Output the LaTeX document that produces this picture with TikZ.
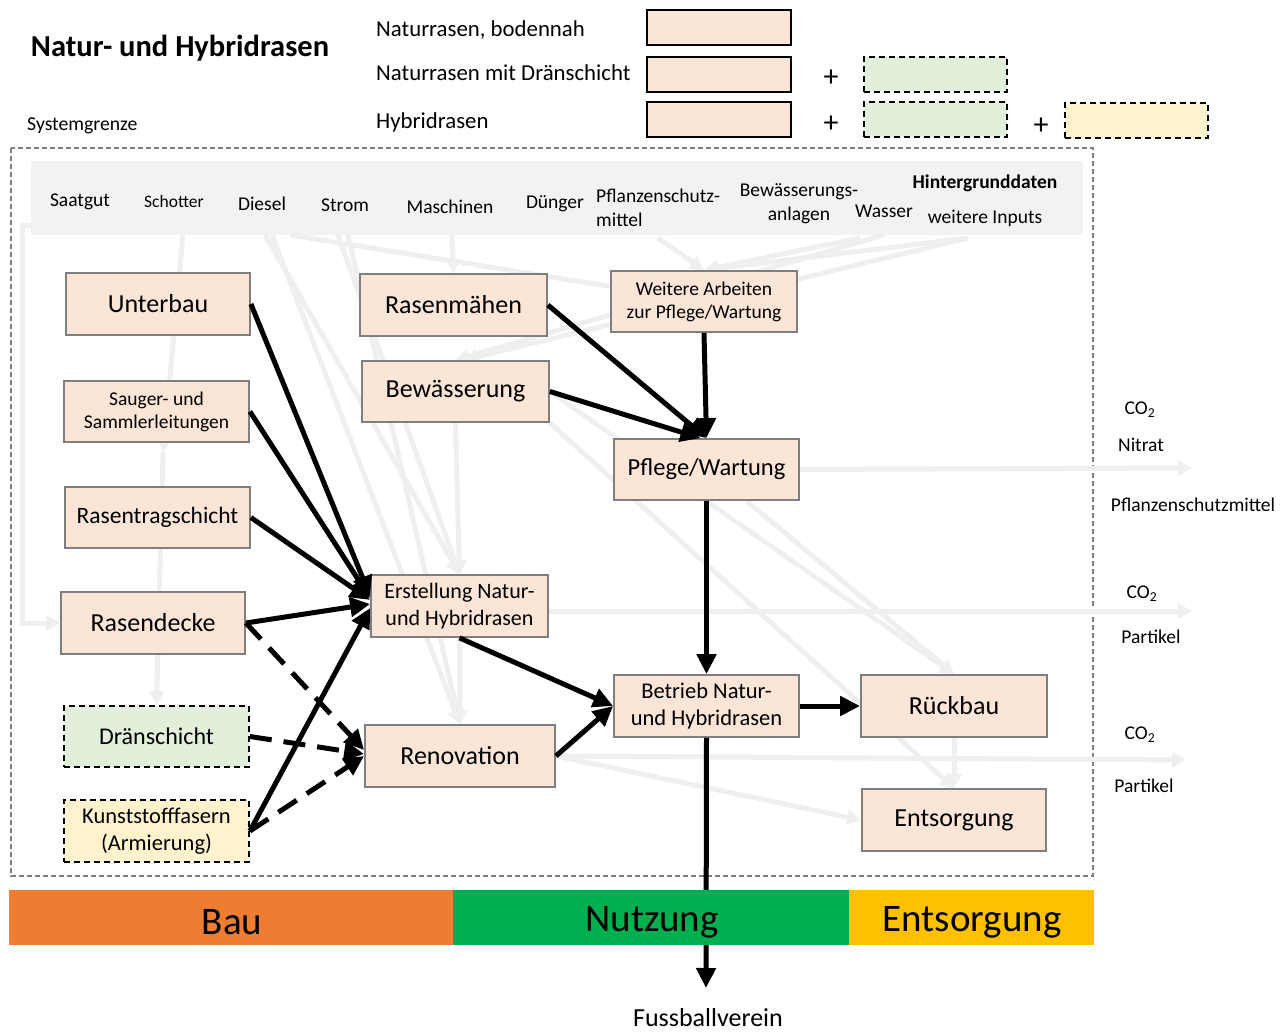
\documentclass[tikz,border=0pt]{standalone}
\usepackage{fontspec}
\setmainfont{Carlito}
\usetikzlibrary{arrows.meta}
\definecolor{pinkfill}{HTML}{FBE5D6}
\definecolor{greenfill}{HTML}{E2EFDA}
\definecolor{yellowfill}{HTML}{FFF2CC}
\definecolor{boxgray}{HTML}{7F7F7F}
\definecolor{lgray}{HTML}{EFEFEF}
\definecolor{barfill}{HTML}{F2F2F2}
\definecolor{bauorange}{HTML}{ED7D31}
\definecolor{nutzgreen}{HTML}{00B050}
\definecolor{entsgold}{HTML}{FFC000}
\begin{document}
\begin{tikzpicture}[x=1pt,y=-1pt,
 box/.style={draw=boxgray,line width=1.8,fill=pinkfill,inner sep=0,align=center},
 dbox/.style={draw=black,line width=1.8,dash pattern=on 6pt off 4pt,inner sep=0,align=center},
 legbox/.style={draw=black,line width=1.8,fill=pinkfill,minimum width=144,minimum height=35,inner sep=0},
 legdash/.style={draw=black,line width=1.8,dash pattern=on 6pt off 4pt,minimum width=143,minimum height=35,inner sep=0},
 lbl/.style={inner sep=0,align=center},
 gline/.style={draw=lgray,line width=5},
 garrow/.style={gline,-{Triangle[length=14pt,width=15pt]}},
 barrow/.style={draw=black,line width=5,-{Triangle[length=20pt,width=19pt]}},
 darrow/.style={barrow,dash pattern=on 22pt off 12pt},
 fA/.style={font=\fontsize{19.5}{23}\selectfont},
 fB/.style={font=\fontsize{22.5}{27}\selectfont},
 fC/.style={font=\fontsize{26}{30}\selectfont},
 fD/.style={font=\fontsize{23.5}{28}\selectfont},
 fin/.style={font=\fontsize{19.5}{24}\selectfont},
]
\useasboundingbox (0,0) rectangle (1285,1032);

% ---------- legend ----------
\node[lbl,font=\bfseries\fontsize{30.5}{34}\selectfont] (title) at (180,48) {Natur- und Hybridrasen};
\node[lbl,font=\fontsize{22.8}{26}\selectfont,anchor=west] (l1) at (376,30) {Naturrasen, bodennah};
\node[lbl,font=\fontsize{22.8}{26}\selectfont,anchor=west] (l2) at (376,73) {Naturrasen mit Dränschicht};
\node[lbl,font=\fontsize{22.8}{26}\selectfont,anchor=west] (l3) at (376,122) {Hybridrasen};
\node[lbl,font=\fontsize{19.7}{22}\selectfont,anchor=west] (sysg) at (27,126) {Systemgrenze};
\node[legbox] (lb1) at (719,27.5) {};
\node[legbox] (lb2) at (719,74.5) {};
\node[legbox] (lb3) at (719,119.5) {};
\node[legdash,fill=greenfill] (lg2) at (935.5,74.5) {};
\node[legdash,fill=greenfill] (lg3) at (935.5,119.5) {};
\node[legdash,fill=yellowfill] (ly3) at (1136.5,120.5) {};
\node[lbl,font=\fontsize{30}{30}\selectfont] (p1) at (831,78) {+};
\node[lbl,font=\fontsize{30}{30}\selectfont] (p2) at (831,124) {+};
\node[lbl,font=\fontsize{30}{30}\selectfont] (p3) at (1041,126) {+};

% ---------- system boundary and input bar ----------
\draw[boxgray,line width=1.5,dash pattern=on 5pt off 3pt] (11,148) rectangle (1093,876);
\fill[barfill] (31,161) rectangle (1083,235);
\node[lbl,fin] (saatgut) at (80,202) {Saatgut};
\node[lbl,font=\fontsize{17.5}{20}\selectfont] (schotter) at (174,201) {Schotter};
\node[lbl,fin] (diesel) at (262,204) {Diesel};
\node[lbl,fin] (strom) at (345,205) {Strom};
\node[lbl,fin] (masch) at (450,207) {Maschinen};
\node[lbl,fin] (duenger) at (555,204) {Dünger};
\node[lbl,fin,align=left,anchor=west] (psm) at (596,208) {Pflanzenschutz-\\mittel};
\node[lbl,fin] (bewanl) at (799,204) {Bewässerungs-\\anlagen};
\node[lbl,fin] (wasser) at (884,211) {Wasser};
\node[lbl,font=\bfseries\fontsize{19.5}{22}\selectfont] (hinter) at (985,183) {Hintergrunddaten};
\node[lbl,fin] (winputs) at (985,218) {weitere Inputs};

% coordinates at the lower edge of the input bar
\coordinate (saatB) at (31,226);
\coordinate (schotB) at (183,235);
\coordinate (dieB1) at (265,235);
\coordinate (dieB2) at (272,235);
\coordinate (dieB3) at (290,235);
\coordinate (strB1) at (338,235);
\coordinate (strB2) at (348,235);
\coordinate (masB) at (452,235);
\coordinate (psmB) at (658,238);
\coordinate (banB) at (860,238);
\coordinate (wasB) at (884,235);
\coordinate (winB) at (968,238);
\coordinate (sauB) at (163,452);
\coordinate (out1) at (1192,468);
\coordinate (out2) at (1192,611);
\coordinate (out3) at (1186,760);
\coordinate (fuss) at (706,988);

% ---------- boxes (placed first so gray lines can refer to them) ----------
\path
 node[box,minimum width=184,minimum height=62,fC] (unterbau) at (158,304) {Unterbau}
 node[box,minimum width=185,minimum height=61,fA] (sauger) at (156.5,411.5) {Sauger- und\\Sammlerleitungen}
 node[box,minimum width=185,minimum height=61,fD] (trag) at (157.5,517.5) {Rasentragschicht}
 node[box,minimum width=184,minimum height=62,fC] (decke) at (153,623) {Rasendecke}
 node[dbox,fill=greenfill,minimum width=185,minimum height=61,font=\fontsize{24}{28}\selectfont] (draen) at (156.5,736.5) {Dränschicht}
 node[dbox,fill=yellowfill,minimum width=185,minimum height=62,fB] (kunst) at (156.5,831) {Kunststofffasern\\(Armierung)}
 node[box,minimum width=187,minimum height=62,fC] (maehen) at (453.5,305) {Rasenmähen}
 node[box,minimum width=187,minimum height=61,fC] (bew) at (455.5,391.5) {Bewässerung}
 node[box,minimum width=186,minimum height=61,fA] (weitere) at (704,301.5) {Weitere Arbeiten\\zur Pflege/Wartung}
 node[box,minimum width=185,minimum height=61,font=\fontsize{24.5}{28}\selectfont] (pflege) at (706.5,469.5) {Pflege/Wartung}
 node[box,minimum width=177,minimum height=62,font=\fontsize{22}{27}\selectfont] (erst) at (459.5,606) {Erstellung Natur-\\und Hybridrasen}
 node[box,minimum width=190,minimum height=62,fC] (reno) at (460,756) {Renovation}
 node[box,minimum width=185,minimum height=62,fB] (betrieb) at (706.5,706) {Betrieb Natur-\\und Hybridrasen}
 node[box,minimum width=186,minimum height=62,fC] (rueck) at (954,706) {Rückbau}
 node[box,minimum width=184,minimum height=62,fC] (ents) at (954,820) {Entsorgung};

% ---------- gray background flows ----------
\draw[garrow] (saatB) -- (22,226) |- (decke.west);
\draw[garrow] (schotB) -- (sauB);
\draw[garrow] (sauB) -- (draen.north);
\draw[garrow] (dieB1) -- (erst.north);
\draw[garrow] (dieB2) -- (reno.north);
\draw[garrow] (strB1) -- (erst.north);
\draw[garrow] (strB2) -- (reno.north);
\draw[garrow] (masB) -- (maehen.north);
\draw[gline] (dieB3) -- (weitere.center);
\draw[garrow] (psmB) -- (weitere.north);
\draw[garrow] (banB) -- (weitere.north);
\draw[garrow] (winB) -- (weitere.north);
\draw[garrow] (wasB) -- (bew.north);
\draw[garrow] (winB) -- ([xshift=8pt]bew.north);
\draw[garrow] (bew.south) -- (erst.north);
\draw[garrow] (erst.south) -- (reno.north);
\draw[garrow] (bew.east) -- (rueck.north);
\draw[garrow] ([xshift=40pt]pflege.south) -- (rueck.north);
\draw[garrow] (bew.south east) -- (ents.north);
\draw[garrow] (pflege.east) -- (out1);
\draw[garrow] (erst.east |- out2) -- (out2);
\draw[garrow] (reno.east) -- (out3);
\draw[garrow] (reno.east) -- (ents.west);
\draw[garrow] (rueck.south) -- (ents.north);

% redraw boxes on top of gray flows
\path
 node[box,minimum width=184,minimum height=62,fC] at (unterbau) {Unterbau}
 node[box,minimum width=185,minimum height=61,fA] at (sauger) {Sauger- und\\Sammlerleitungen}
 node[box,minimum width=185,minimum height=61,fD] at (trag) {Rasentragschicht}
 node[box,minimum width=184,minimum height=62,fC] at (decke) {Rasendecke}
 node[dbox,fill=greenfill,minimum width=185,minimum height=61,font=\fontsize{24}{28}\selectfont] at (draen) {Dränschicht}
 node[dbox,fill=yellowfill,minimum width=185,minimum height=62,fB] at (kunst) {Kunststofffasern\\(Armierung)}
 node[box,minimum width=187,minimum height=62,fC] at (maehen) {Rasenmähen}
 node[box,minimum width=187,minimum height=61,fC] at (bew) {Bewässerung}
 node[box,minimum width=186,minimum height=61,fA] at (weitere) {Weitere Arbeiten\\zur Pflege/Wartung}
 node[box,minimum width=185,minimum height=61,font=\fontsize{24.5}{28}\selectfont] at (pflege) {Pflege/Wartung}
 node[box,minimum width=177,minimum height=62,font=\fontsize{22}{27}\selectfont] at (erst) {Erstellung Natur-\\und Hybridrasen}
 node[box,minimum width=190,minimum height=62,fC] at (reno) {Renovation}
 node[box,minimum width=185,minimum height=62,fB] at (betrieb) {Betrieb Natur-\\und Hybridrasen}
 node[box,minimum width=186,minimum height=62,fC] at (rueck) {Rückbau}
 node[box,minimum width=184,minimum height=62,fC] at (ents) {Entsorgung};

% ---------- output labels ----------
\node[lbl,fin] (co1) at (1140,410) {CO\textsubscript{2}};
\node[lbl,fin] (nitrat) at (1141,445) {Nitrat};
\node[lbl,fin] (psmout) at (1193,505) {Pflanzenschutzmittel};
\node[lbl,fin] (co2) at (1142,594) {CO\textsubscript{2}};
\node[lbl,fin] (part1) at (1151,637) {Partikel};
\node[lbl,fin] (co3) at (1140,735) {CO\textsubscript{2}};
\node[lbl,fin] (part2) at (1144,786) {Partikel};

% ---------- black flows ----------
\draw[barrow] (unterbau.east) -- ([yshift=10pt]erst.west);
\draw[barrow] (sauger.east) -- ([yshift=8pt]erst.west);
\draw[barrow] (trag.east) -- ([yshift=6pt]erst.west);
\draw[barrow] (decke.east) -- ([yshift=2pt]erst.west);
\draw[barrow] (kunst.east) -- ([yshift=-2pt]erst.west);
\draw[darrow] (decke.east) -- ([yshift=6pt]reno.west);
\draw[darrow] (draen.east) -- ([yshift=2pt]reno.west);
\draw[darrow] (kunst.east) -- (reno.west);
\draw[barrow] (erst.south) -- (betrieb.west);
\draw[barrow] (reno.east) -- (betrieb.west);
\draw[barrow] (maehen.east) -- (pflege.north);
\draw[barrow] (bew.east) -- ([xshift=-6pt]pflege.north);
\draw[barrow] (weitere.south) -- (pflege.north);
\draw[barrow] (pflege.south) -- (betrieb.north);
\draw[barrow] (betrieb.east) -- (rueck.west);
\draw[barrow] (betrieb.south) -- (fuss);
\node[lbl,font=\fontsize{26}{30}\selectfont] (fussl) at (708,1018) {Fussballverein};

% ---------- phase bar ----------
\fill[bauorange] (9,890) rectangle (453,945);
\fill[nutzgreen] (453,890) rectangle (849,945);
\fill[entsgold] (849,890) rectangle (1094,945);
\node[lbl,font=\fontsize{39}{44}\selectfont] (bau) at (232,922) {Bau};
\node[lbl,font=\fontsize{39}{44}\selectfont] (nutz) at (652,922) {Nutzung};
\node[lbl,font=\fontsize{39}{44}\selectfont] (entsb) at (972,922) {Entsorgung};
\end{tikzpicture}
\end{document}
